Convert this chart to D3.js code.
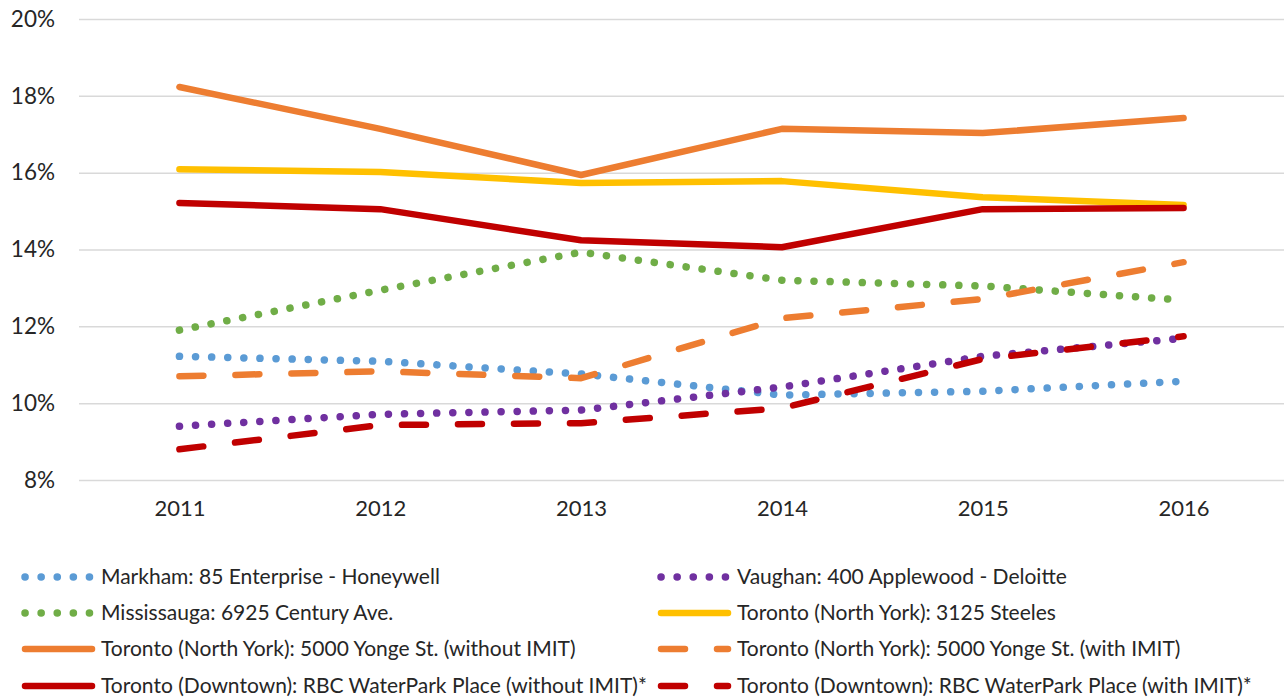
<!DOCTYPE html>
<html>
<head>
<meta charset="utf-8">
<script src="https://cdn.jsdelivr.net/npm/d3@7"></script>
<style>
  body { margin: 0; background: #fff; }
  text { font-family: Lato, "Open Sans", sans-serif; fill: #262626; }
</style>
</head>
<body>
<div id="chart"></div>
<script>
const width = 1284;
const height = 698;
const marginTop = 19;
const marginLeft = 79;
const plotBottom = 480;

const years = ["2011", "2012", "2013", "2014", "2015", "2016"];
const yTicks = [8, 10, 12, 14, 16, 18, 20];

// series values in percent
const markham = [11.22, 11.09, 10.76, 10.21, 10.31, 10.57];
const vaughan = [9.40, 9.71, 9.82, 10.42, 11.22, 11.69];
const mississauga = [11.90, 12.94, 13.93, 13.20, 13.05, 12.68];
const steeles = [16.09, 16.02, 15.73, 15.78, 15.36, 15.16];
const yongeWithout = [18.23, 17.14, 15.94, 17.14, 17.03, 17.42];
const yongeWith = [10.70, 10.83, 10.65, 12.21, 12.71, 13.67];
const rbcWithout = [15.21, 15.05, 14.24, 14.06, 15.05, 15.08];
const rbcWith = [8.80, 9.43, 9.48, 9.87, 11.15, 11.74];

const series = [
  { name: "Markham: 85 Enterprise - Honeywell", values: markham, color: "#5B9BD5", style: "dot" },
  { name: "Vaughan: 400 Applewood - Deloitte", values: vaughan, color: "#7030A0", style: "dot" },
  { name: "Mississauga: 6925 Century Ave.", values: mississauga, color: "#70AD47", style: "dot" },
  { name: "Toronto (North York): 3125 Steeles", values: steeles, color: "#FFC000", style: "solid" },
  { name: "Toronto (North York): 5000 Yonge St. (without IMIT)", values: yongeWithout, color: "#ED7D31", style: "solid" },
  { name: "Toronto (North York): 5000 Yonge St. (with IMIT)", values: yongeWith, color: "#ED7D31", style: "dash" },
  { name: "Toronto (Downtown): RBC WaterPark Place (without IMIT)*", values: rbcWithout, color: "#C00000", style: "solid" },
  { name: "Toronto (Downtown): RBC WaterPark Place (with IMIT)*", values: rbcWith, color: "#C00000", style: "dash" }
];

const dashes = { solid: null, dot: "0.1 16", dash: "24 32" };
const widths = { solid: 6.5, dot: 7.5, dash: 6.5 };

const x = d3.scalePoint()
    .domain(years)
    .range([marginLeft, width])
    .padding(0.5);
const y = d3.scaleLinear()
    .domain([8, 20])
    .range([plotBottom, marginTop]);

const svg = d3.select("#chart")
    .append("svg")
        .attr("width", width)
        .attr("height", height);

// gridlines + y labels
svg.append("g")
    .attr("transform", `translate(${marginLeft},0)`)
    .call(d3.axisLeft(y)
        .tickValues(yTicks)
        .tickSize(-(width - marginLeft))
        .tickPadding(24)
        .tickFormat(d => d + "%"))
    .call(g => g.select(".domain").remove())
    .call(g => g.selectAll("line").attr("stroke", "#d9d9d9").attr("stroke-width", 1.5))
    .call(g => g.selectAll("text").attr("font-size", 22.5).attr("fill", "#262626")
        .style("font-family", "Lato, sans-serif"));

// x labels
svg.append("g")
    .attr("transform", `translate(0,${plotBottom})`)
    .call(d3.axisBottom(x).tickSize(0).tickPadding(20))
    .call(g => g.select(".domain").remove())
    .call(g => g.selectAll("text").attr("font-size", 22).attr("fill", "#262626")
        .style("font-family", "Lato, sans-serif"));

const line = d3.line()
    .x((d, i) => x(years[i]))
    .y(d => y(d));

svg.append("g")
  .selectAll("path")
  .data(series)
  .join("path")
    .attr("fill", "none")
    .attr("stroke", d => d.color)
    .attr("stroke-width", d => widths[d.style])
    .attr("stroke-linecap", "round")
    .attr("stroke-linejoin", "round")
    .attr("stroke-dasharray", d => dashes[d.style])
    .attr("d", d => line(d.values));

// legend, two columns
const legendRows = [577, 613, 649, 686];
const legendCols = [22, 658];

const legend = svg.append("g")
  .selectAll("g")
  .data(series)
  .join("g")
    .attr("transform", (d, i) => `translate(${legendCols[i % 2]},${legendRows[Math.floor(i / 2)]})`);

legend.append("path")
    .attr("fill", "none")
    .attr("stroke", d => d.color)
    .attr("stroke-width", d => widths[d.style])
    .attr("stroke-linecap", "round")
    .attr("stroke-dasharray", d => dashes[d.style])
    .attr("d", d => d.style === "dot" ? "M3,0H70" : "M3,0H70");

legend.append("text")
    .attr("x", 79)
    .attr("dy", "0.35em")
    .attr("font-size", 21)
    .text(d => d.name);
</script>
</body>
</html>
